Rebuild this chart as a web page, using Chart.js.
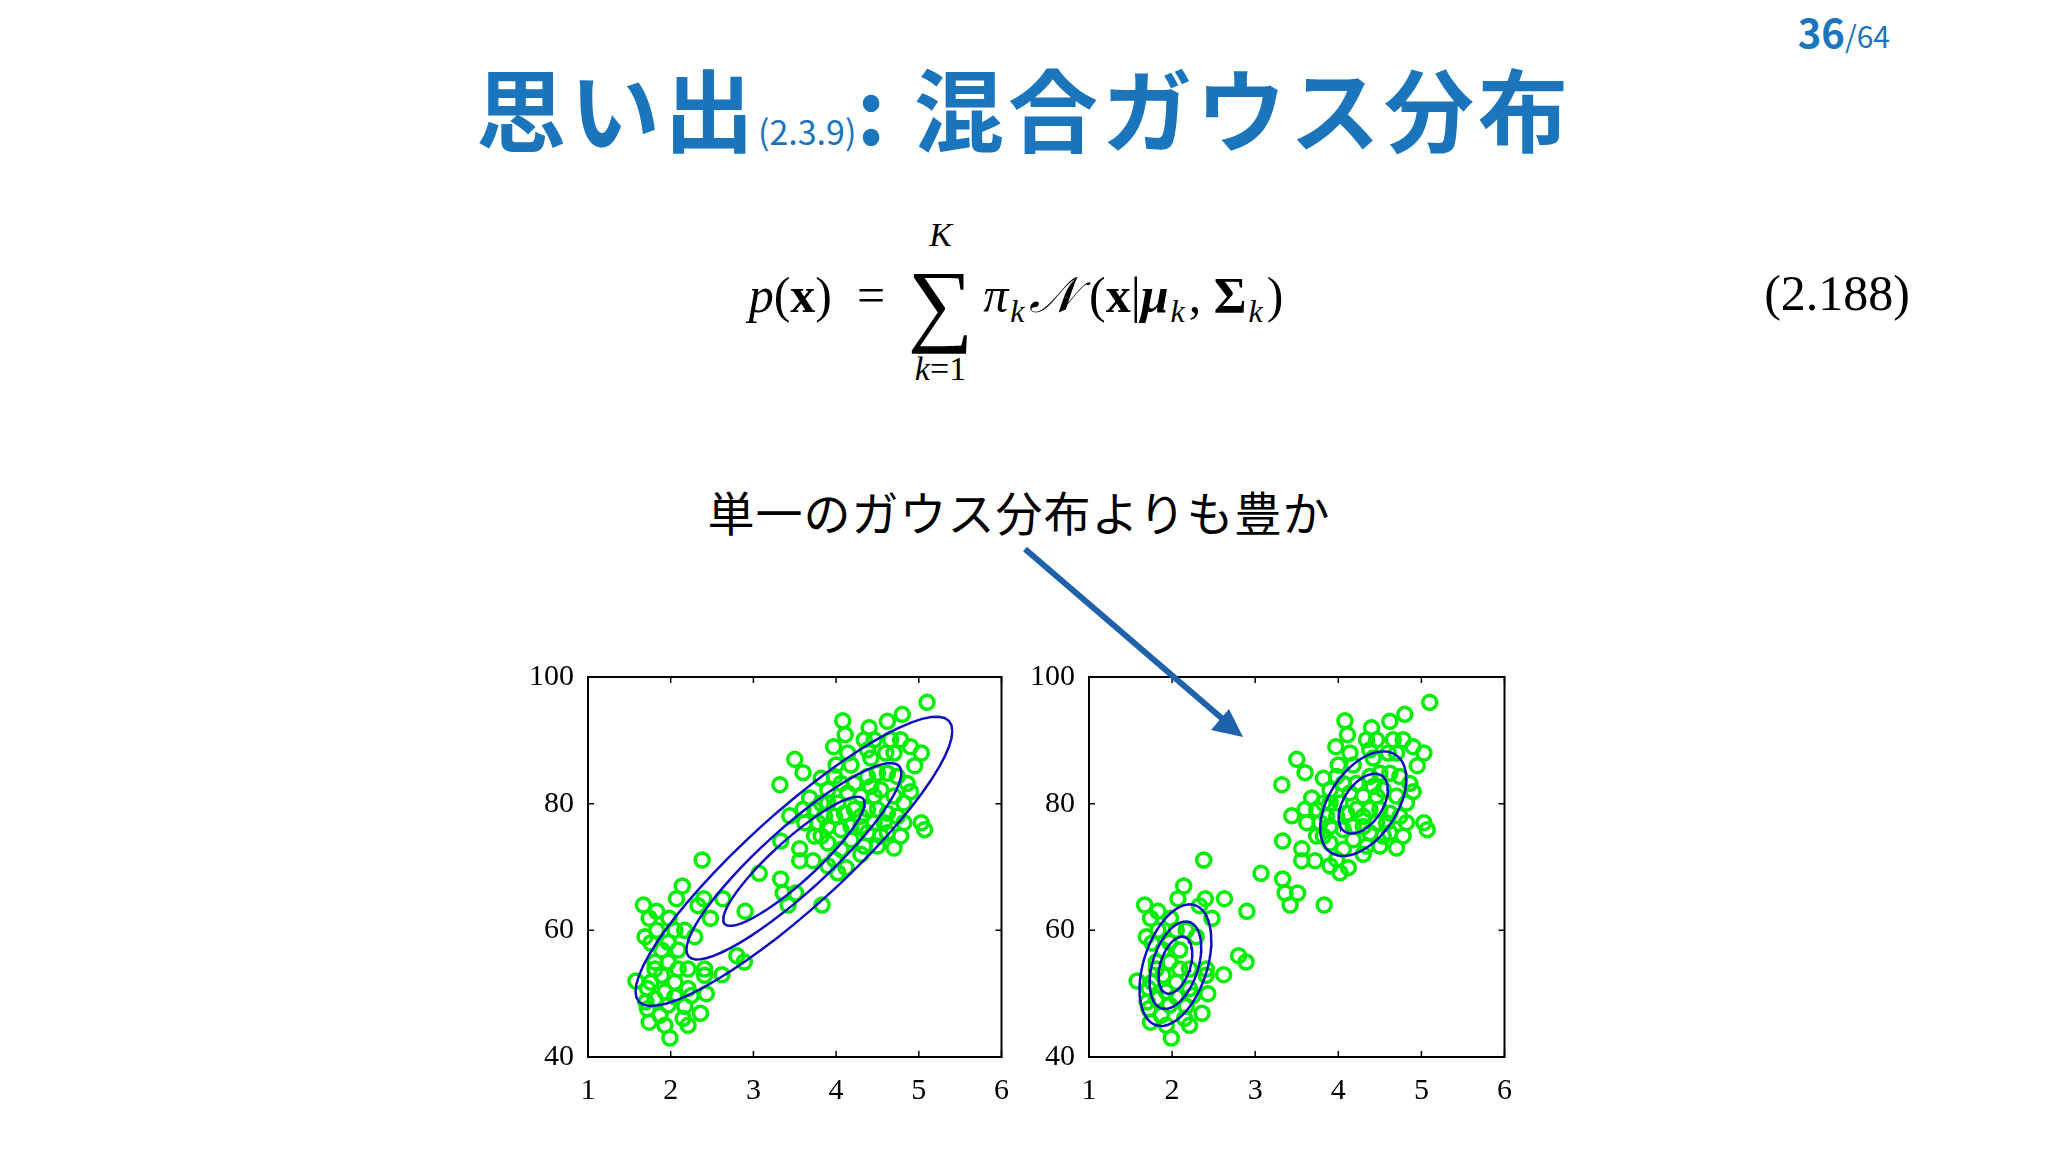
<!DOCTYPE html>
<html><head><meta charset="utf-8">
<script src="https://cdn.jsdelivr.net/npm/chart.js@4.4.0/dist/chart.umd.min.js"></script>
<style>
body{margin:0;width:2048px;height:1152px;background:#fff;position:relative;overflow:hidden;font-family:"Noto Sans CJK JP",sans-serif}
.abs{position:absolute}
#title{left:0;width:2048px;top:46px;text-align:center;color:#1a75bc;font-weight:bold;font-size:90px;line-height:120px;letter-spacing:4px}
#title small{font-size:34px;font-weight:normal;letter-spacing:0}
#page{right:158px;top:6px;color:#1a75bc;font-size:40px;line-height:50px}
#page span{font-size:30px}
#eq{left:0;width:2048px;top:200px;text-align:center;font-family:"Liberation Serif",serif;font-size:50px;line-height:190px}
#eqn{right:138px;top:264px;font-family:"Liberation Serif",serif;font-size:50px}
#sub{left:0;width:2038px;top:476px;text-align:center;font-size:47px;color:#000;letter-spacing:1px}
canvas{position:absolute}
sub{font-size:32px;vertical-align:-10px;margin-left:2px;margin-right:4px}
</style></head><body>
<div id="title" class="abs">思い出<small>(2.3.9)</small>: 混合ガウス分布</div>
<div id="page" class="abs"><b>36</b><span>/64</span></div>
<div id="eq" class="abs"><span style="position:relative;left:-8px"><i>p</i>(<b>x</b>)&nbsp; = <span style="display:inline-block;vertical-align:middle;text-align:center;margin:0 10px"><span style="font-size:34px;display:block;line-height:40px"><i>K</i></span><span style="font-size:92px;display:block;line-height:96px">∑</span><span style="font-size:34px;display:block;line-height:36px"><i>k</i>=1</span></span><i>π</i><sub><i>k</i></sub><span style="font-family:'DejaVu Serif';font-style:italic">𝒩</span>&nbsp;(<b>x</b>|<b><i>μ</i></b><sub><i>k</i></sub>, <b>Σ</b><sub><i>k</i></sub>)</span></div>
<div id="eqn" class="abs">(2.188)</div>
<div id="sub" class="abs">単一のガウス分布よりも豊か</div>
<svg class="abs" style="left:0;top:0;z-index:5" width="2048" height="1152">
<line x1="1025" y1="549" x2="1225" y2="721" stroke="#1f62ab" stroke-width="6"/>
<polygon points="1243,737 1211,730 1229,709" fill="#1f62ab"/>
</svg>
<canvas id="c1" style="left:520px;top:653px" width="497" height="454"></canvas>
<canvas id="c2" style="left:1021px;top:653px" width="499" height="454"></canvas>
<script>
// Eruption duration (x) and waiting time (y)
const eruptions = [5.10,4.80,4.62,4.08,4.40,4.11,3.97,3.50,3.60,3.32,3.44,3.33,3.56,3.56,3.72,3.07,3.33,3.36,3.51,3.42,3.83,2.90,2.63,2.38,2.14,2.07,2.40,2.33,2.48,1.67,1.83,1.74,1.98,1.83,1.69,1.76,2.05,2.17,2.29,2.09,1.89,1.81,1.97,2.21,2.41,2.41,2.62,2.80,2.89,1.58,1.76,1.89,2.05,2.21,1.93,1.81,2.05,2.25,2.43,1.72,1.87,2.17,2.36,1.74,1.93,2.15,2.21,1.99,1.70,1.97,1.81,2.09,1.97,1.72,
4.34,4.46,4.66,4.78,4.90,5.03,4.60,4.70,4.38,4.42,4.14,4.18,4.00,4.95,3.98,3.82,3.90,4.06,4.22,4.38,4.50,4.62,4.74,4.86,4.90,4.82,4.70,4.54,4.46,4.42,4.30,4.14,4.02,3.90,3.68,3.60,3.74,3.82,3.86,3.98,4.10,4.22,4.38,4.50,4.62,4.74,4.82,5.03,5.07,4.78,4.62,4.46,4.54,4.38,4.30,4.18,4.06,3.90,3.82,3.74,3.90,4.18,4.06,4.34,4.50,4.70,4.30,3.98,3.90,4.02,4.12,4.30,4.58,3.62,3.78];
const waiting = [96.0,94.1,93.0,93.1,92.0,90.9,89.0,87.0,84.9,83.0,78.1,74.1,72.9,71.0,71.0,69.0,68.1,65.9,65.9,64.0,64.0,63.0,65.0,71.1,67.0,65.0,65.0,63.9,61.9,64.0,63.0,61.9,61.9,60.0,59.0,58.0,60.0,60.0,59.0,56.9,56.9,55.0,55.0,53.9,53.9,52.9,53.0,56.0,55.0,52.0,51.8,52.9,51.8,50.8,50.3,49.2,49.5,49.7,50.0,47.6,46.6,48.0,46.9,45.5,45.0,46.1,45.0,43.0,48.7,48.2,53.9,53.9,58.1,50.8,
90.1,90.1,90.1,90.1,89.0,88.0,88.0,88.0,88.5,87.2,88.0,86.1,86.1,86.0,84.3,84.0,82.2,83.2,83.2,84.3,84.8,84.8,84.3,83.2,81.9,80.1,81.2,82.2,81.2,82.7,81.2,81.7,80.1,80.1,80.9,79.1,79.1,80.1,78.0,78.0,78.5,79.1,79.1,79.1,78.5,78.0,77.0,77.0,75.9,74.9,75.4,77.0,74.9,75.4,76.4,76.4,75.9,76.4,74.9,74.9,73.8,74.3,72.8,73.3,73.3,73.0,72.0,71.2,70.2,69.1,69.9,78.0,77.0,77.0,77.0];
const xTicks = [1,2,3,4,5,6];
const yTicks = [40,60,80,100];
// Gaussian component parameters [meanX, meanY, sdX, sdY, rho] and contour radii
const singleGauss = [3.49, 70.9, 1.14, 13.6, 0.90];
const singleLevels = [0.75, 1.14, 1.68];
const mixComp1 = [2.04, 54.5, 0.27, 6.0, 0.40];
const mixComp1Levels = [0.75, 1.15, 1.6];
const mixComp2 = [4.30, 80.0, 0.37, 5.9, 0.47];
const mixComp2Levels = [0.8, 1.4];

function contour(p, r){
  const [mx,my,sx,sy,rho]=p, pts=[];
  for(let i=0;i<=60;i++){const t=2*Math.PI*i/60;
    const a=Math.cos(t), b=Math.sin(t);
    pts.push({x:mx+r*sx*a, y:my+r*sy*(rho*a+Math.sqrt(1-rho*rho)*b)});}
  return pts;
}
const pts = eruptions.map((x,i)=>({x, y:waiting[i]}));
const green='#00ee00', blue='#1010c0';
function make(id, comps){
  const ds=[{type:'scatter',order:2,data:pts,pointStyle:'circle',pointRadius:7,pointBorderWidth:3.5,borderColor:green,backgroundColor:'rgba(0,0,0,0)',pointHoverRadius:7}];
  comps.forEach(([p,levels])=>levels.forEach(r=>ds.push({type:'line',order:1,data:contour(p,r),borderColor:blue,borderWidth:2.5,pointRadius:0,fill:false,tension:0})));
  const boxPlugin={id:'box',afterDraw(ch){const c=ch.ctx,a=ch.chartArea,xs=ch.scales.x,ys=ch.scales.y;
    c.save();c.strokeStyle='#000';c.lineWidth=2;c.strokeRect(a.left,a.top,a.right-a.left,a.bottom-a.top);
    c.lineWidth=1.5;
    xTicks.forEach(v=>{const px=xs.getPixelForValue(v);c.beginPath();c.moveTo(px,a.bottom);c.lineTo(px,a.bottom-6);c.moveTo(px,a.top);c.lineTo(px,a.top+6);c.stroke();});
    yTicks.forEach(v=>{const py=ys.getPixelForValue(v);c.beginPath();c.moveTo(a.left,py);c.lineTo(a.left+6,py);c.moveTo(a.right,py);c.lineTo(a.right-6,py);c.stroke();});
    c.restore();}};
  new Chart(document.getElementById(id),{data:{datasets:ds},plugins:[boxPlugin],
    options:{responsive:false,animation:false,events:[],layout:{padding:{top:10,right:10,left:0,bottom:0}},
      plugins:{legend:{display:false},tooltip:{enabled:false}},
      scales:{
        x:{type:'linear',min:1,max:6,afterFit(s){s.height=50;},afterBuildTicks(s){s.ticks=xTicks.map(v=>({value:v}));},
          grid:{display:false},border:{display:false},ticks:{color:'#000',padding:8,font:{family:'Liberation Serif',size:30}}},
        y:{type:'linear',min:40,max:100,afterFit(s){s.width=68;},afterBuildTicks(s){s.ticks=yTicks.map(v=>({value:v}));},
          grid:{display:false},border:{display:false},ticks:{color:'#000',padding:6,font:{family:'Liberation Serif',size:30}}}
      }}});
}
make('c1',[[singleGauss,singleLevels]]);
make('c2',[[mixComp1,mixComp1Levels],[mixComp2,mixComp2Levels]]);
</script></body></html>
